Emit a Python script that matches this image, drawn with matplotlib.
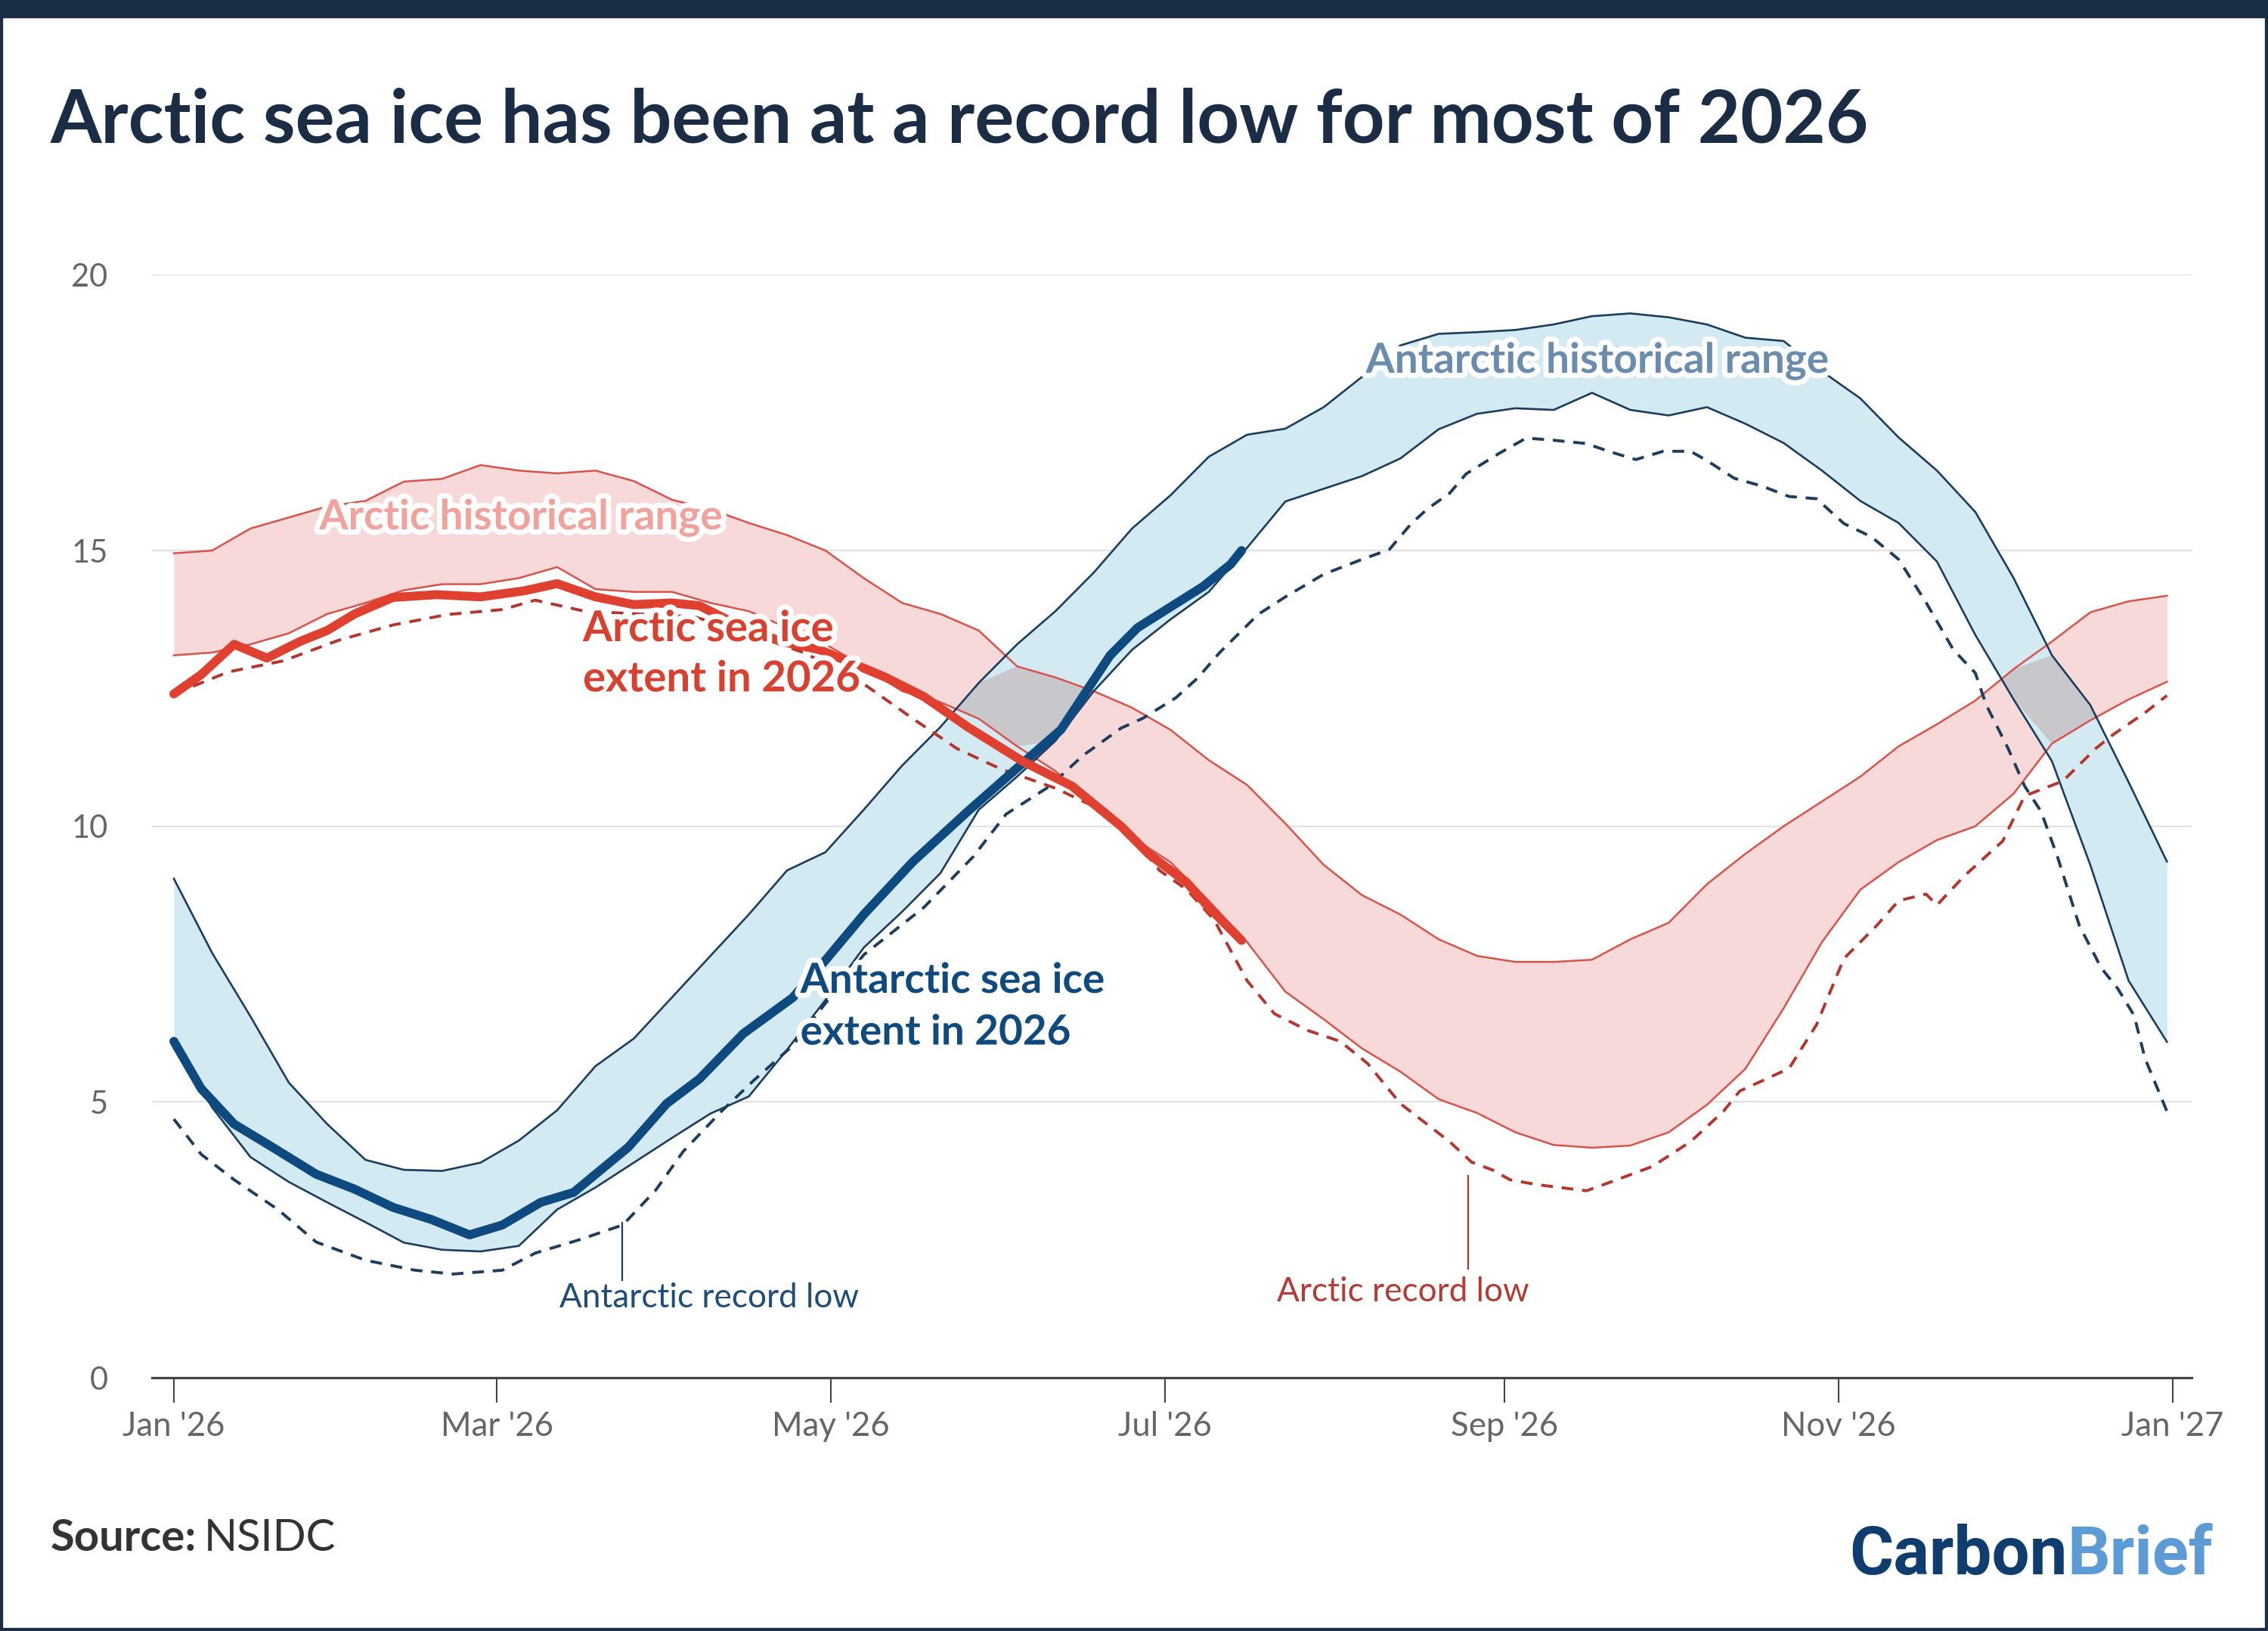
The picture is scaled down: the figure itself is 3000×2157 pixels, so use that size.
import numpy as np
import matplotlib
matplotlib.use("Agg")
import matplotlib.pyplot as plt
import matplotlib.dates as mdates
import matplotlib.patheffects as pe
import matplotlib.patches as patches
from matplotlib import font_manager

plt.rcParams['font.family'] = ['Lato', 'DejaVu Sans']

START = np.datetime64('2026-01-01')

# weekly grid shared by the two historical ranges (days since 1 Jan 2026)
RANGE_DAYS = list(range(0, 358, 7)) + [364]

ARCTIC_UPPER = [14.95, 15.0, 15.4, 15.6, 15.8, 15.9, 16.25, 16.3, 16.55, 16.45, 16.4, 16.45,
                16.26, 15.92, 15.75, 15.5, 15.28, 15.0, 14.5, 14.05, 13.85, 13.55, 12.9, 12.7,
                12.45, 12.15, 11.75, 11.2, 10.75, 10.05, 9.3, 8.75, 8.4, 7.95, 7.65, 7.54, 7.54,
                7.58, 7.95, 8.25, 8.95, 9.5, 10.0, 10.45, 10.9, 11.45, 11.85, 12.28, 12.85, 13.35,
                13.88, 14.08, 14.18]
ARCTIC_LOWER = [13.1, 13.15, 13.3, 13.5, 13.85, 14.05, 14.28, 14.39, 14.39, 14.5, 14.7, 14.3,
                14.25, 14.25, 14.05, 13.9, 13.6, 13.3, 12.9, 12.45, 12.25, 11.95, 11.45, 11.0,
                10.4, 9.8, 9.35, 8.65, 7.9, 7.0, 6.5, 5.97, 5.55, 5.05, 4.8, 4.45, 4.22, 4.17,
                4.21, 4.45, 4.95, 5.6, 6.7, 7.9, 8.85, 9.35, 9.75, 10.0, 10.59, 11.5, 11.92, 12.3,
                12.62]
ANTARCTIC_UPPER = [9.05, 7.7, 6.55, 5.35, 4.6, 3.95, 3.77, 3.75, 3.9, 4.3, 4.85, 5.65, 6.15, 6.9,
                   7.65, 8.4, 9.2, 9.53, 10.3, 11.1, 11.8, 12.6, 13.3, 13.9, 14.6, 15.4, 16.0,
                   16.7, 17.1, 17.21, 17.6, 18.15, 18.72, 18.93, 18.96, 19.0, 19.1, 19.25, 19.3,
                   19.23, 19.1, 18.86, 18.8, 18.25, 17.76, 17.05, 16.45, 15.7, 14.5, 13.1, 12.2,
                   10.8, 9.36]
ANTARCTIC_LOWER = [6.1, 4.9, 4.0, 3.55, 3.18, 2.82, 2.45, 2.32, 2.29, 2.39, 3.05, 3.45, 3.9,
                   4.35, 4.79, 5.1, 5.95, 6.85, 7.8, 8.45, 9.15, 10.3, 10.9, 11.55, 12.45, 13.2,
                   13.75, 14.25, 15.05, 15.89, 16.12, 16.35, 16.67, 17.2, 17.48, 17.58, 17.55,
                   17.86, 17.55, 17.45, 17.6, 17.3, 16.95, 16.45, 15.9, 15.5, 14.8, 13.47, 12.3,
                   11.18, 9.3, 7.2, 6.09]

ARCTIC_2026_DAYS = [0, 5, 11, 17, 23, 28, 33, 40, 48, 56, 64, 70, 77, 84, 91, 96, 104, 111, 118,
                    124, 130, 137, 145, 155, 164, 173, 178, 185, 189, 195]
ARCTIC_2026 = [12.4, 12.75, 13.3, 13.05, 13.35, 13.55, 13.85, 14.15, 14.2, 14.16, 14.27, 14.4,
               14.16, 14.02, 14.05, 14.0, 13.6, 13.35, 13.2, 12.95, 12.7, 12.35, 11.8, 11.18,
               10.73, 10.0, 9.5, 8.98, 8.53, 7.93]

ANTARCTIC_2026_DAYS = [0, 5, 11, 18, 26, 33, 40, 47, 54, 60, 67, 73, 83, 90, 96, 104, 113, 119,
                       126, 135, 145, 156, 162, 167, 171, 176, 180, 184, 188, 193, 195]
ANTARCTIC_2026 = [6.10, 5.24, 4.60, 4.18, 3.69, 3.42, 3.09, 2.87, 2.59, 2.77, 3.18, 3.36, 4.18,
                  4.97, 5.42, 6.24, 6.89, 7.57, 8.40, 9.36, 10.27, 11.23, 11.75, 12.5, 13.1,
                  13.6, 13.85, 14.1, 14.35, 14.75, 15.0]

ARCTIC_LOW_DAYS = [0, 10, 20, 30, 40, 50, 60, 66, 75, 85, 95, 105, 115, 125, 135, 143, 151, 161,
                   171, 175, 180, 185, 190, 196, 201, 207, 213, 218, 224, 233, 237, 241, 244, 249,
                   258, 263, 270, 277, 283, 286, 290, 295, 300, 305, 311, 315, 320, 322, 327, 334,
                   338, 345, 351, 354, 360, 364]
ARCTIC_LOW = [12.4, 12.8, 13.0, 13.37, 13.65, 13.84, 13.93, 14.1, 13.9, 13.85, 13.8, 13.5, 13.15,
              12.65, 11.95, 11.41, 11.04, 10.69, 10.22, 9.8, 9.2, 8.85, 8.3, 7.2, 6.6, 6.3, 6.1,
              5.7, 4.97, 4.28, 3.91, 3.76, 3.59, 3.5, 3.39, 3.57, 3.83, 4.28, 4.83, 5.2, 5.38,
              5.61, 6.4, 7.6, 8.2, 8.65, 8.77, 8.57, 9.1, 9.73, 10.55, 10.82, 11.41, 11.65, 12.06,
              12.37]

ANTARCTIC_LOW_DAYS = [0, 5, 11, 19, 26, 35, 44, 51, 60, 66, 74, 82, 88, 93, 100, 106, 113, 119,
                      126, 137, 146, 152, 160, 166, 173, 177, 183, 187, 191, 198, 203, 210, 217,
                      222, 226, 229, 233, 236, 242, 247, 252, 258, 262, 267, 272, 277, 280, 285,
                      290, 295, 300, 305, 310, 315, 320, 325, 329, 331, 335, 338, 341, 344, 348,
                      352, 355, 358, 360, 364]
ANTARCTIC_LOW = [4.69, 4.05, 3.59, 3.05, 2.46, 2.13, 1.95, 1.88, 1.95, 2.26, 2.5, 2.77, 3.4, 4.10,
                 4.83, 5.4, 6.02, 6.79, 7.67, 8.53, 9.45, 10.22, 10.73, 11.28, 11.78, 11.96,
                 12.33, 12.69, 13.15, 13.84, 14.16, 14.57, 14.84, 15.02, 15.49, 15.76, 16.04,
                 16.39, 16.76, 17.04, 17.0, 16.94, 16.8, 16.65, 16.8, 16.8, 16.63, 16.31, 16.17,
                 15.98, 15.94, 15.49, 15.25, 14.84, 14.06, 13.2, 12.78, 12.2, 11.41, 10.73,
                 10.27, 9.45, 8.2, 7.43, 7.06, 6.57, 5.79, 4.83]

TICK_DATES = ['2026-01-01', '2026-03-01', '2026-05-01', '2026-07-01', '2026-09-01',
              '2026-11-01', '2027-01-01']

NAVY = '#1b2d45'
ARC_LINE = '#d9534a'
ARC_FILL = '#f6d9d8'
ANT_LINE = '#1c3d5e'
ANT_FILL = '#d3eaf2'
OVERLAP = '#c8c7cc'


def to_dates(days):
    return START + np.array(days).astype('timedelta64[D]')


rd = to_dates(RANGE_DAYS)
arc_up = np.array(ARCTIC_UPPER)
arc_lo = np.array(ARCTIC_LOWER)
ant_up = np.array(ANTARCTIC_UPPER)
ant_lo = np.array(ANTARCTIC_LOWER)

fig = plt.figure(figsize=(30, 21.57), dpi=100)
ax = fig.add_axes([0.067, 0.1553, 0.8993, 0.6762])

# historical ranges, overlap shown grey
ax.fill_between(rd, arc_lo, arc_up, color=ARC_FILL, lw=0, zorder=1)
ax.fill_between(rd, ant_lo, ant_up, color=ANT_FILL, lw=0, zorder=1)
ov_lo = np.maximum(arc_lo, ant_lo)
ov_hi = np.minimum(arc_up, ant_up)
ax.fill_between(rd, ov_lo, ov_hi, where=ov_hi > ov_lo, interpolate=True,
                color=OVERLAP, lw=0, zorder=1.5)

for s in [arc_up, arc_lo]:
    ax.plot(rd, s, color=ARC_LINE, lw=1.8, zorder=3)
for s in [ant_up, ant_lo]:
    ax.plot(rd, s, color=ANT_LINE, lw=1.9, zorder=3)

# record lows
ax.plot(to_dates(ARCTIC_LOW_DAYS), ARCTIC_LOW, color='#b5352c', lw=2.8,
        linestyle=(0, (4, 3)), zorder=4)
ax.plot(to_dates(ANTARCTIC_LOW_DAYS), ANTARCTIC_LOW, color=ANT_LINE, lw=2.8,
        linestyle=(0, (4, 3)), zorder=4)

# 2026
ax.plot(to_dates(ANTARCTIC_2026_DAYS), ANTARCTIC_2026, color='#0e4a80', lw=8.5,
        solid_capstyle='round', solid_joinstyle='round', zorder=5)
ax.plot(to_dates(ARCTIC_2026_DAYS), ARCTIC_2026, color='#e0402f', lw=8.5,
        solid_capstyle='round', solid_joinstyle='round', zorder=6)

# axes styling
ax.set_ylim(0, 20)
ax.set_xlim(START - np.timedelta64(4, 'D'), START + np.timedelta64(368, 'D') + np.timedelta64(12, 'h'))
ax.set_yticks([0, 5, 10, 15, 20])
ax.set_xticks([np.datetime64(t) for t in TICK_DATES])
ax.xaxis.set_major_formatter(mdates.DateFormatter("%b '%y"))
ax.grid(axis='y', color='#e2e2e2', lw=1.6, zorder=0)
ax.set_axisbelow(True)
for side in ['top', 'right', 'left']:
    ax.spines[side].set_visible(False)
ax.spines['bottom'].set_color('#444444')
ax.spines['bottom'].set_linewidth(2.3)
ax.spines['bottom'].set_zorder(7)
ax.tick_params(axis='y', length=0, pad=42, labelsize=30, labelcolor='#666666')
ax.tick_params(axis='x', length=24, width=1.5, color='#444444', pad=8,
               labelsize=31.5, labelcolor='#666666')

halo = [pe.withStroke(linewidth=10, foreground='white')]


def day(d):
    return START + np.timedelta64(int(round(d * 24)), 'h')


ax.text(day(260), 18.44, 'Antarctic historical range', color='#6a8cae', fontsize=39.5,
        fontweight='bold', ha='center', va='center', path_effects=halo, zorder=8)
ax.text(day(63.4), 15.6, 'Arctic historical range', color='#f2a29c', fontsize=39.5,
        fontweight='bold', ha='center', va='center', path_effects=halo, zorder=8)
ax.text(day(74.7), 13.12, 'Arctic sea ice\nextent in 2026', color='#d8412f', fontsize=40.5,
        fontweight='bold', ha='left', va='center', linespacing=1.4, path_effects=halo, zorder=8)
ax.text(day(114.4), 6.73, 'Antarctic sea ice\nextent in 2026', color='#0f4a7e', fontsize=39.5,
        fontweight='bold', ha='left', va='center', linespacing=1.45, path_effects=halo, zorder=8)

ax.plot([day(81.9), day(81.9)], [2.81, 1.77], color=ANT_LINE, lw=1.6, zorder=4)
ax.text(day(97.8), 1.45, 'Antarctic record low', color='#1f4d7a', fontsize=31.8,
        ha='center', va='center', zorder=8)
ax.plot([day(236.4), day(236.4)], [3.66, 1.98], color='#b5352c', lw=1.6, zorder=4)
ax.text(day(224.5), 1.55, 'Arctic record low', color='#b23b33', fontsize=31.8,
        ha='center', va='center', zorder=8)

# title, source, logo
fig.text(0.0223, 0.9124, 'Arctic sea ice has been at a record low for most of 2026',
         color=NAVY, fontsize=70, fontweight='bold', ha='left', va='baseline')
src = fig.text(0.0223, 0.0491, 'Source:', color='#333333', fontsize=41.8, fontweight='bold',
               ha='left', va='baseline')
fig.canvas.draw()
bb = src.get_window_extent()
fig.text(bb.x1 / fig.bbox.width + 0.003, 0.0491, 'NSIDC', color='#333333', fontsize=41.8,
         ha='left', va='baseline')

names = {f.name for f in font_manager.fontManager.ttflist}
logo_font = 'Liberation Sans Narrow' if 'Liberation Sans Narrow' in names else 'Roboto'
brief = fig.text(0.9757, 0.0348, 'Brief', color='#5c9bd6', fontsize=64, fontweight='bold',
                 family=logo_font, ha='right', va='baseline')
fig.canvas.draw()
bb = brief.get_window_extent()
fig.text(bb.x0 / fig.bbox.width, 0.0348, 'Carbon', color='#0f3d6e', fontsize=64,
         fontweight='bold', family=logo_font, ha='right', va='baseline')

# frame
fig.patches.append(patches.Rectangle((0, 1 - 23 / 2157), 1, 23 / 2157, transform=fig.transFigure,
                                     color='#1a2e45', zorder=10))
fig.patches.append(patches.Rectangle((0, 0), 1, 1, transform=fig.transFigure, fill=False,
                                     edgecolor='#1a2e45', lw=6, zorder=10))

fig.savefig('out.png', dpi=100)
